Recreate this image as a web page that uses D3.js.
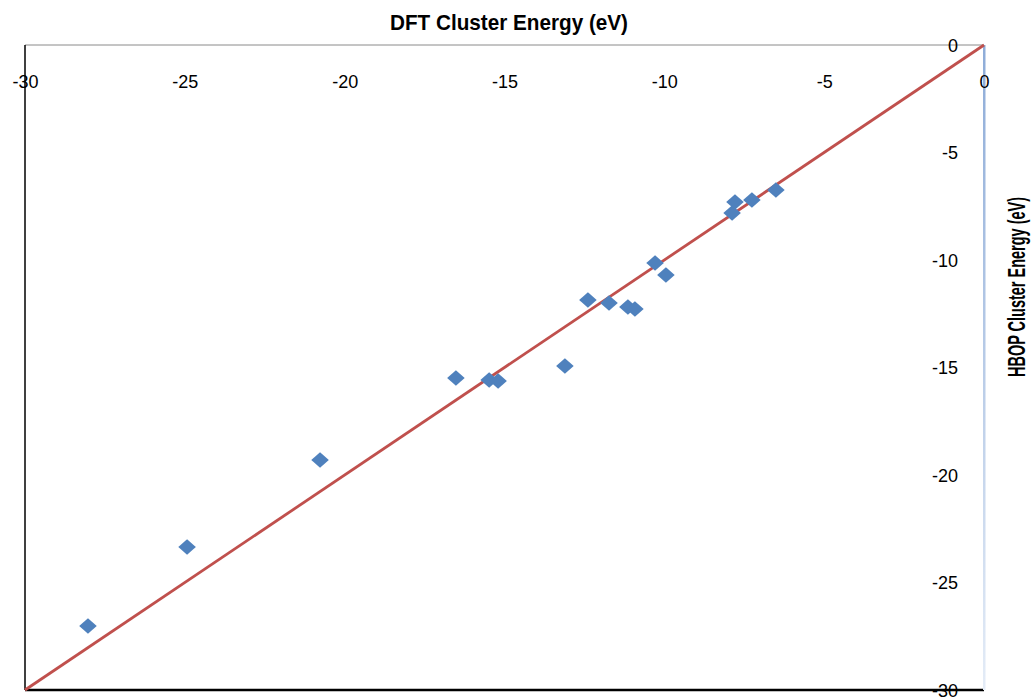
<!DOCTYPE html>
<html>
<head>
<meta charset="utf-8">
<script src="https://cdn.jsdelivr.net/npm/d3@7"></script>
<style>
  html, body { margin: 0; padding: 0; background: #ffffff; }
  svg { display: block; }
  .tick-label { font-family: "Liberation Sans", Arial, sans-serif; font-size: 18px; fill: #000; }
  .axis-title { font-family: "Liberation Sans", Arial, sans-serif; font-weight: bold; fill: #000; }
</style>
</head>
<body>
<svg id="chart" width="1031" height="700"></svg>
<script>
// DFT vs HBOP cluster energies (eV)
const dftEnergy = [-28.03, -24.93, -20.77, -16.52, -15.48, -15.20, -13.11, -12.39, -11.73, -11.14, -10.92, -10.29, -9.95, -7.88, -7.79, -7.26, -6.51];
const hbopEnergy = [-27.02, -23.35, -19.30, -15.49, -15.58, -15.63, -14.93, -11.86, -12.00, -12.19, -12.28, -10.14, -10.70, -7.81, -7.30, -7.21, -6.74];

// y = x reference line endpoints
const parityLine = [[-30, -30], [0, 0]];

const xTicks = [-30, -25, -20, -15, -10, -5, 0];
const yTicks = [0, -5, -10, -15, -20, -25, -30];

const xTitle = "DFT Cluster Energy (eV)";
const yTitle = "HBOP Cluster Energy (eV)";

const svg = d3.select("#chart");
const plot = { left: 25, right: 984, top: 45, bottom: 690 };

const x = d3.scaleLinear().domain([-30, 0]).range([plot.left, plot.right]);
const y = d3.scaleLinear().domain([0, -30]).range([plot.top, plot.bottom]);

// fading blue gradient for the right-hand axis line
const defs = svg.append("defs");
const grad = defs.append("linearGradient")
  .attr("id", "axisFade").attr("x1", 0).attr("y1", 0).attr("x2", 0).attr("y2", 1);
grad.append("stop").attr("offset", "0%").attr("stop-color", "#8eacd8");
grad.append("stop").attr("offset", "100%").attr("stop-color", "#e4ecf7");

// plot frame: grey top, black left and bottom, blue right
svg.append("line")
  .attr("x1", x(-30)).attr("x2", x(0)).attr("y1", y(0)).attr("y2", y(0))
  .attr("stroke", "#8a8a8a").attr("stroke-width", 1);
svg.append("line")
  .attr("x1", x(-30)).attr("x2", x(-30)).attr("y1", y(0)).attr("y2", y(-30))
  .attr("stroke", "#000").attr("stroke-width", 1.5);
svg.append("line")
  .attr("x1", x(-30)).attr("x2", x(0)).attr("y1", y(-30)).attr("y2", y(-30))
  .attr("stroke", "#000").attr("stroke-width", 2.5);
svg.append("rect")
  .attr("x", x(0) - 1).attr("y", y(0)).attr("width", 2.5).attr("height", y(-30) - y(0))
  .attr("fill", "url(#axisFade)");

// x axis labels along the top
const xAxis = d3.axisTop(x).tickValues(xTicks).tickSize(0).tickPadding(0)
  .tickFormat(d => String(d));
const gx = svg.append("g").attr("transform", `translate(0, ${y(0)})`).call(xAxis);
gx.select(".domain").remove();
gx.selectAll("text")
  .attr("class", "tick-label")
  .attr("y", 37).attr("dy", "0.35em")
  .attr("text-anchor", "middle");

// y axis labels inside the right edge
const yAxis = d3.axisLeft(y).tickValues(yTicks).tickSize(0).tickPadding(0)
  .tickFormat(d => String(d));
const gy = svg.append("g").attr("transform", `translate(${x(0) - 26}, 0)`).call(yAxis);
gy.select(".domain").remove();
gy.selectAll("text")
  .attr("class", "tick-label")
  .attr("x", 0).attr("dy", "0.35em")
  .attr("text-anchor", "end");
// strip d3's inline font attributes so the css class applies
svg.selectAll("g").attr("font-family", null).attr("font-size", null);

// parity line
svg.append("path")
  .datum(parityLine)
  .attr("d", d3.line().x(d => x(d[0])).y(d => y(d[1])))
  .attr("stroke", "#c0504d").attr("stroke-width", 2.8).attr("fill", "none");

// data markers: squares turned 45 degrees, slightly wider than tall
const square = d3.symbol().type(d3.symbolSquare).size(140);
svg.append("g").selectAll("path")
  .data(dftEnergy.map((d, i) => [d, hbopEnergy[i]]))
  .join("path")
  .attr("d", square)
  .attr("transform", d => `translate(${x(d[0])}, ${y(d[1])}) scale(1.05, 0.93) rotate(45)`)
  .attr("fill", "#4f81bd");

// axis titles
svg.append("text")
  .attr("class", "axis-title")
  .attr("font-size", 22)
  .attr("x", 509).attr("y", 22).attr("dy", "0.35em")
  .attr("text-anchor", "middle")
  .attr("textLength", 238).attr("lengthAdjust", "spacingAndGlyphs")
  .text(xTitle);
svg.append("text")
  .attr("class", "axis-title")
  .attr("font-size", 24)
  .attr("transform", "translate(1017, 287) rotate(-90)")
  .attr("dy", "0.35em")
  .attr("text-anchor", "middle")
  .attr("textLength", 180).attr("lengthAdjust", "spacingAndGlyphs")
  .text(yTitle);
</script>
</body>
</html>
